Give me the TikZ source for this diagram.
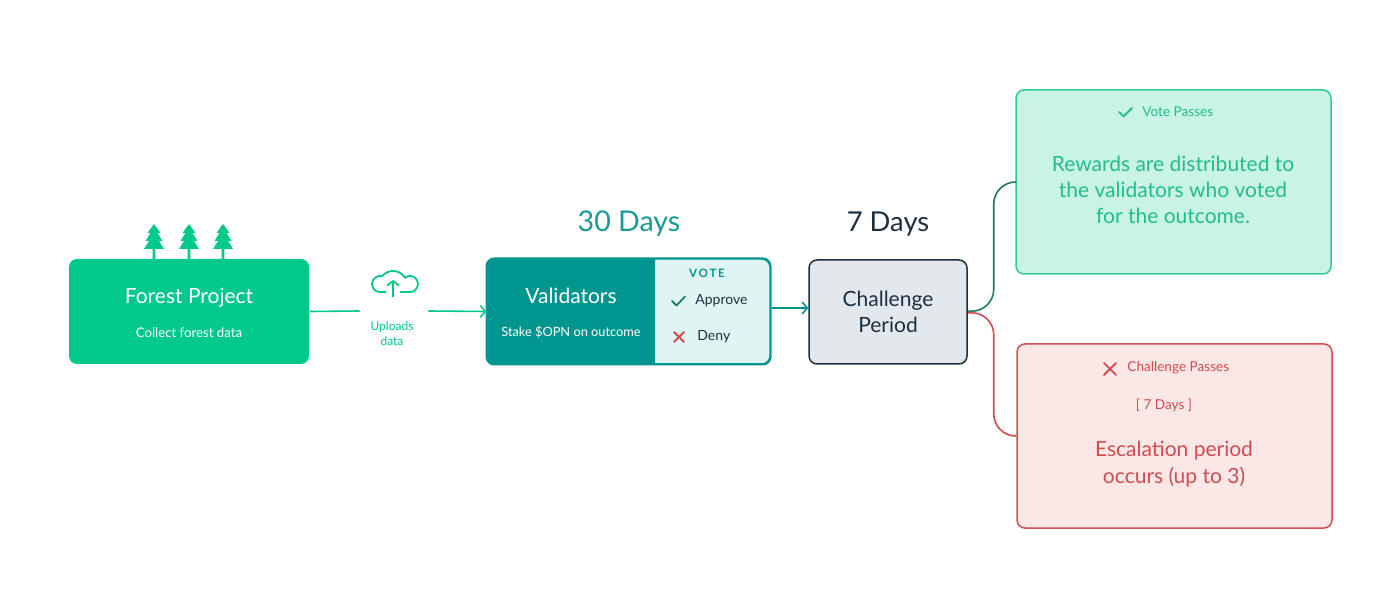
\documentclass[tikz,border=0pt]{standalone}
\usepackage{fontspec}
\setmainfont{Lato}
\usetikzlibrary{arrows.meta}
\definecolor{forest}{HTML}{00C98B}
\definecolor{tealbox}{HTML}{00968F}
\definecolor{tealtext}{HTML}{1A9A93}
\definecolor{votebg}{HTML}{E0F5F3}
\definecolor{tickgreen}{HTML}{1E7F6B}
\definecolor{navy}{HTML}{1C3041}
\definecolor{chalbg}{HTML}{E3E8EC}
\definecolor{passbg}{HTML}{C9F3E6}
\definecolor{passline}{HTML}{2ECC8F}
\definecolor{passtext}{HTML}{21BE86}
\definecolor{passlink}{HTML}{1E7A5E}
\definecolor{failbg}{HTML}{FBE7E6}
\definecolor{failline}{HTML}{D24B4F}
\newcommand{\fsz}[2]{\fontsize{#1}{#2}\selectfont}
\tikzset{
  card/.style={draw, rounded corners=4pt, line width=0.75pt, inner sep=0pt},
  txt/.style={inner sep=0pt, align=center},
  link/.style={line width=0.8pt},
  arrowline/.style={link, -{Straight Barb[length=2.5pt,width=6pt]}},
  iconline/.style={line width=0.9pt, line cap=round, line join=round},
}
\begin{document}
\begin{tikzpicture}[x=0.5pt, y=-0.5pt]
    \useasboundingbox (0,0) rectangle (1400,613);
    % forest project
    \node[card, draw=none, fill=forest, minimum width=120pt, minimum height=52.5pt, name=forest] at (189, 311.5) {};
    \node[txt, text=white, font=\fsz{10.5}{13}, name=forest_title] at (189, 298) {Forest Project};
    \node[txt, text=white, font=\fsz{6.6}{8}, name=forest_sub] at (189, 333) {Collect forest data};
    \foreach \tx in {154, 189, 223} {
        \fill[forest] (\tx,224) -- (\tx+6.5,233) -- (\tx+3.5,233) -- (\tx+8.5,241) -- (\tx+5,241) -- (\tx+10,249)
            -- (\tx+1.3,249) -- (\tx+1.3,259) -- (\tx-1.3,259) -- (\tx-1.3,249) -- (\tx-10,249)
            -- (\tx-5,241) -- (\tx-8.5,241) -- (\tx-3.5,233) -- (\tx-6.5,233) -- cycle;
    }
    % upload
    \node[txt, minimum width=34pt, minimum height=10pt, name=upload] at (394, 311) {};
    \node[txt, text=forest, font=\fsz{6}{7.5}, name=upload_text] at (392, 334) {Uploads\\data};
    \draw[forest, line width=0.9pt, line join=round] (386,292) -- (380,292)
        arc[start angle=90, end angle=284.8, radius=8]
        arc[start angle=218.6, end angle=328.9, radius=14]
        arc[start angle=231.2, end angle=450, radius=8] -- (400,292);
    \draw[forest, line width=0.9pt, -{Straight Barb[length=2.2pt,width=6pt]}] (393,297.5) -- (393,280);
    % validators
    \node[card, draw=tealbox, fill=votebg, minimum width=141.5pt, minimum height=52.5pt, name=validators] at (628.5, 311.5) {};
    \begin{scope}
        \clip (480,250) rectangle (655,370);
        \fill[tealbox, rounded corners=4pt] (validators.north west) rectangle (validators.south east);
    \end{scope}
    \draw[tealbox, line width=0.75pt, rounded corners=4pt] (validators.north west) rectangle (validators.south east);
    \node[txt, text=white, font=\fsz{10.5}{13}, name=validators_title] at (571, 296) {Validators};
    \node[txt, text=white, font=\fsz{6.4}{8}, name=validators_sub] at (571, 332) {Stake \$OPN on outcome};
    \node[txt, text=tealbox, font=\fsz{5.8}{7}\bfseries\addfontfeatures{LetterSpace=15}, name=vote] at (707, 273) {VOTE};
    \draw[iconline, tickgreen] (672,301) -- (676.5,305.5) -- (685,296.5);
    \node[txt, anchor=west, text=navy, font=\fsz{7}{8}, name=approve] at (695, 301) {Approve};
    \draw[iconline, failline] (674,332) -- (684,342) (684,332) -- (674,342);
    \node[txt, anchor=west, text=navy, font=\fsz{7}{8}, name=deny] at (697, 337) {Deny};
    \node[txt, text=tealtext, font=\fsz{14.3}{17}, name=days_vote] at (629, 224) {30 Days};
    % challenge
    \node[card, draw=navy, fill=chalbg, minimum width=79pt, minimum height=52pt, font=\fsz{10.5}{13}, text=navy, align=center, name=challenge] at (888, 312) {Challenge\\Period};
    \node[txt, text=navy, font=\fsz{13.7}{16}, name=days_chal] at (888, 224) {7 Days};
    \draw[arrowline, tealbox] (validators.east |- 0,308) -- (challenge.west |- 0,308);
    % outcomes
    \node[card, draw=passline, fill=passbg, minimum width=157.5pt, minimum height=92pt, name=pass] at (1173.5, 182) {};
    \draw[iconline, passtext] (1119,112) -- (1123.5,116.5) -- (1132,108);
    \node[txt, anchor=west, text=passtext, font=\fsz{6.8}{8}, name=pass_head] at (1142, 112) {Vote Passes};
    \node[txt, text=passtext, font=\fsz{10.5}{13}, name=pass_text] at (1173, 190) {Rewards are distributed to\\the validators who voted\\for the outcome.};
    \node[card, draw=failline, fill=failbg, minimum width=157.5pt, minimum height=92pt, name=fail] at (1174.5, 436) {};
    \draw[iconline, failline] (1104,363) -- (1116,375) (1116,363) -- (1104,375);
    \node[txt, anchor=west, text=failline, font=\fsz{6.8}{8}, name=fail_head] at (1127, 368) {Challenge Passes};
    \node[txt, text=failline, font=\fsz{6.8}{8}, name=fail_days] at (1164, 405) {[ 7 Days ]};
    \node[txt, text=failline, font=\fsz{10.5}{13.5}, name=fail_text] at (1174, 464.5) {Escalation period\\occurs (up to 3)};
    \draw[link, forest] (forest.east) -- (upload.west);
    \draw[arrowline, forest] (upload.east) -- (validators.west);
    \draw[link, passlink, rounded corners=11pt] ([yshift=0.4pt]challenge.east) -- ++(26,0) |- (pass.west);
    \draw[link, failline, rounded corners=11pt] ([yshift=-0.4pt]challenge.east) -- ++(26,0) |- (fail.west);
\end{tikzpicture}
\end{document}
